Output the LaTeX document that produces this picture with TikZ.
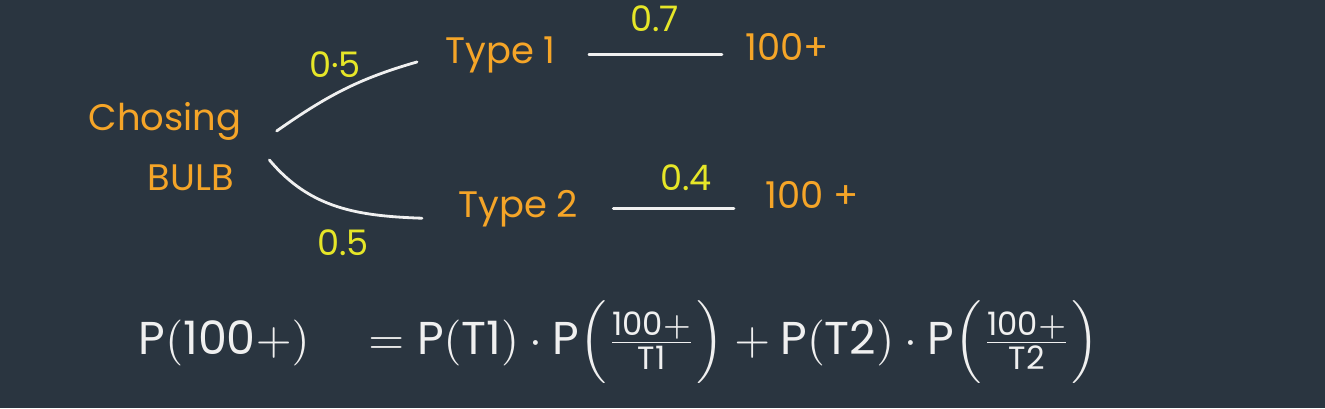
\documentclass[tikz,border=0pt]{standalone}
\usepackage{fontspec}
\setmainfont{Poppins}
\setsansfont{Poppins}
\usepackage{tikz}
\usetikzlibrary{positioning}
\definecolor{boardbg}{RGB}{42,53,64}
\definecolor{chalkorange}{RGB}{245,165,40}
\definecolor{chalkyellow}{RGB}{230,230,40}
\definecolor{chalkwhite}{RGB}{240,240,240}
\tikzset{
  event/.style={
    inner sep=0pt, text=chalkorange, font=\fontsize{21}{24}\selectfont
  },
  prob/.style={
    inner sep=0pt, text=chalkyellow, font=\fontsize{20}{24}\selectfont
  },
  branch/.style={draw=chalkwhite, line width=1.6pt, line cap=round}
}
\begin{document}
\begin{tikzpicture}
  % Board
  \fill[boardbg] (0,0) rectangle (26.5,-8.16);
  \useasboundingbox (0,0) rectangle (26.5,-8.16);

  % Root
  \node[event] (choose) at (3.3,-2.42) {Chosing};
  \node[event] (bulb) at (3.82,-3.56) {BULB};

  % Bulb types
  \node[event, anchor=base west] (type1) at (8.9,-1.26) {Type 1};
  \node[event, anchor=base west] (type2) at (9.16,-4.34) {Type 2};

  % Outcomes
  \node[event, anchor=base west] (out1) at (14.9,-1.2) {100+};
  \node[event, anchor=base west] (out2) at (15.3,-4.16) {100 +};

  % Branches
  \draw[branch] ([shift={(0.7,-0.2)}]choose.east)
    to[out=35, in=196] ([shift={(-0.56,-0.15)}]type1.west);
  \draw[branch] ([shift={(0.7,0.36)}]bulb.east)
    to[out=-50, in=178] ([shift={(-0.72,-0.2)}]type2.west);
  \draw[branch, shorten <=0.66cm, shorten >=0.46cm]
    (type1.east) -- (type1.east -| out1.west);
  \draw[branch, shorten <=0.7cm, shorten >=0.62cm]
    (type2.east) -- (type2.east -| out2.west);

  % Probabilities
  \node[prob] (p1) at (6.7,-1.3) {0·5};
  \node[prob] (p2) at (6.86,-4.86) {0.5};
  \node[prob, anchor=base west] (p3) at (12.6,-0.62) {0.7};
  \node[prob, anchor=base west] (p4) at (13.2,-3.8) {0.4};

  % Total probability
  \node[text=chalkwhite, anchor=west, scale=2.62, transform shape] (total) at (2.45,-6.85)
    {$\mathsf{P(100+)}\quad=\mathsf{P(T1)}\cdot\mathsf{P}\Bigl(\frac{\mathsf{100+}}{\mathsf{T1}}\Bigr)
     +\mathsf{P(T2)}\cdot\mathsf{P}\Bigl(\frac{\mathsf{100+}}{\mathsf{T2}}\Bigr)$};
\end{tikzpicture}
\end{document}
